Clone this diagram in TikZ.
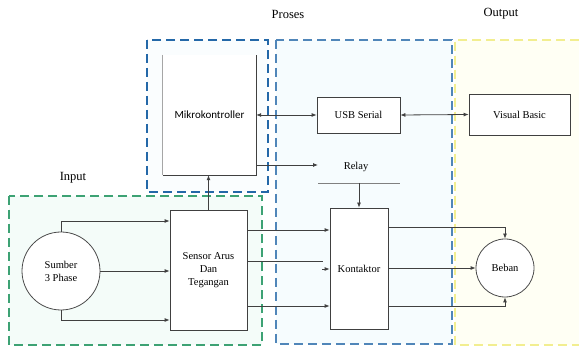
\documentclass[tikz,border=0pt]{standalone}
\usepackage{fontspec}
\setmainfont{Liberation Serif}
\newfontfamily\mkfont{Carlito}
\usetikzlibrary{arrows.meta}
\definecolor{dblue}{HTML}{2468A8}
\definecolor{pfill}{HTML}{F6FCFE}
\definecolor{mfill}{HTML}{FAFDFE}
\definecolor{ofill}{HTML}{FFFFF4}
\definecolor{oline}{HTML}{F2EE90}
\definecolor{ifill}{HTML}{F4FCF9}
\definecolor{iline}{HTML}{3DA274}
\tikzset{
  grp/.style={line width=2pt, dash pattern=on 9pt off 5pt},
  blk/.style={draw=black!75, fill=white, line width=0.8pt, inner sep=0pt, font=\fontsize{10.5}{13}\selectfont, align=center},
  circ/.style={circle, draw=black!70, fill=white, line width=0.8pt, inner sep=0pt, font=\fontsize{10.5}{13}\selectfont, align=center},
  wire/.style={draw=black!75, line width=0.8pt},
  arr/.style={wire, -{Latex[length=5pt,width=4pt]}},
  darr/.style={wire, {Latex[length=5pt,width=4pt]}-{Latex[length=5pt,width=4pt]}},
  head/.style={font=\fontsize{12.5}{14}\selectfont},
  lbl/.style={font=\fontsize{10.5}{13}\selectfont}
}
\begin{document}
\begin{tikzpicture}[x=1pt,y=-1pt]
\useasboundingbox (0,0) rectangle (579,347);
% group areas
\fill[ofill] (455,40) rectangle (579,345);
\draw[grp, oline] (579,40) -- (455,40) -- (455,345) -- (579,345);
\fill[pfill] (276,40) rectangle (452,344);
\draw[grp, dblue!80] (276,40) rectangle (452,344);
\fill[ifill] (9,196) rectangle (262,345);
\draw[grp, iline] (9,196) rectangle (262,345);
\fill[mfill] (147,40) rectangle (268,192);
\draw[grp, dblue] (147,40) rectangle (268,192);

% headings
\node[head] (hproses) at (288,14) {Proses};
\node[head] (houtput) at (501,14) {Output};
\node[head] (hinput) at (73,178) {Input};

% blocks
\fill[white] (163,55) rectangle (256,175);
\node[minimum width=93pt, minimum height=120pt, inner sep=0pt, font=\mkfont\fontsize{11}{13}\selectfont] (mk) at (209.5,115) {Mikrokontroller};
\draw[black!35, line width=1pt] (mk.north west) -- (mk.south west);
\draw[black!75, line width=0.8pt] (mk.south west) -- (mk.south east) -- (mk.north east);
\node[blk, minimum width=83pt, minimum height=36pt] (usb) at (358.5,115) {USB Serial};
\node[blk, minimum width=101pt, minimum height=41pt] (vb) at (519.5,114.5) {Visual Basic};
\node[blk, minimum width=77pt, minimum height=120pt] (sensor) at (208.5,270) {Sensor Arus\\Dan\\Tegangan};
\node[blk, minimum width=58pt, minimum height=121pt] (kon) at (359,268.5) {Kontaktor};
\node[circ, minimum size=78pt] (sumber) at (61,271) {Sumber\\3 Phase};
\node[circ, minimum size=58pt] (beban) at (505,268) {Beban};
\node[lbl] (relay) at (356,167) {Relay};

% coordinates
\coordinate (relayin) at (318,165);
\coordinate (barL) at (318,183);
\coordinate (barR) at (400,183);
\coordinate (barM) at (359,183);
\coordinate (midend) at (323,261);
\coordinate (midtip) at (322,269);

% connectors
\draw[darr] (mk.east) -- (usb.west);
\draw[darr] (usb.east) -- (vb.west);
\draw[arr] (mk.east |- relayin) -- (relayin);
\draw[wire, black!50] (barL) -- (barR);
\draw[arr] (barM) -- (kon.north);
\draw[arr] (sensor.north) -- (sensor.north |- mk.south);

\draw[arr] (sumber.north) |- (sensor.west |- 0,221);
\draw[arr] (sumber.east) -- (sensor.west |- sumber.east);
\draw[arr] (sumber.south) |- (sensor.west |- 0,320);

\draw[arr] (sensor.east |- 0,230) -- (kon.west |- 0,230);
\draw[wire] (sensor.east |- midend) -- (midend);
\draw[arr] (midtip) -- (kon.west |- midtip);
\draw[arr] (sensor.east |- 0,306) -- (kon.west |- 0,306);

\draw[arr] (kon.east |- 0,227) -| (beban.north);
\draw[arr] (kon.east |- beban.west) -- (beban.west);
\draw[arr] (kon.east |- 0,306) -| (beban.south);
\end{tikzpicture}
\end{document}
